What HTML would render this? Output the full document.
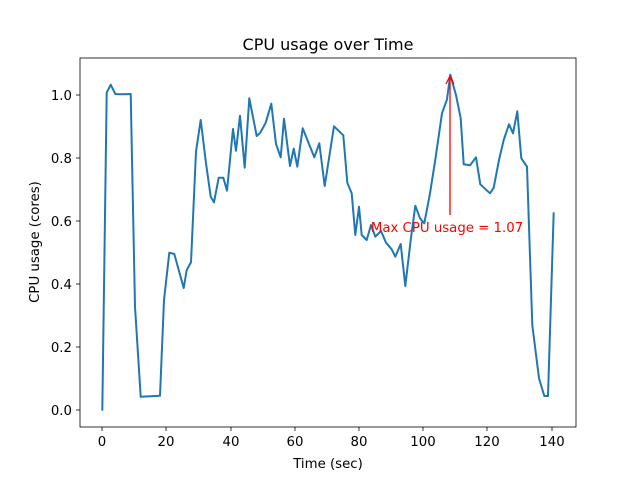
<!DOCTYPE html>
<html><head><style>body{margin:0;background:#fff}svg{display:block;font-family:"DejaVu Sans","Liberation Sans",sans-serif}</style></head><body>
<svg width="640" height="480" viewBox="0 0 640 480" xmlns="http://www.w3.org/2000/svg">
<rect width="640" height="480" fill="#fff"/>
<polyline fill="none" stroke="#1f77b4" stroke-width="2" stroke-linejoin="round" points="102.3,410.7 106.7,92.7 110.7,84.7 115.3,94 120,94.3 130.7,94 135,306.7 140.7,396.7 160,395.7 164,300 169.3,252.7 174.3,254 183.7,288 186.7,270 191,262.3 196,151.7 200.7,120 206,163.3 210.7,196.7 214,202.3 218.7,177.7 223.3,177.7 227,190.7 233,129 236,150.7 240,115.7 244.7,167.7 249.3,98.3 256.7,136 260.3,132.7 265.7,122.7 271.3,103.7 276,144 280.7,157.3 284,118.7 290,166 293.7,148.7 297.3,166.7 302.7,128.3 314.3,157.3 319.3,143.3 324.7,186 334,126.3 343.3,135.3 347.3,182.7 351.7,193.3 355.3,235 359,206.7 361.7,235 366.7,240 371,225 375.3,236.7 381,231 386,242.7 391.7,249.3 395.3,256.7 400.7,244 405.3,286 410.7,240 415.3,205.7 420,218.3 424.3,223.3 430,193.3 435,161.7 442,113.3 447,99.3 450.3,74.7 456,95 460.7,118.3 463.7,164.3 470,165.3 476,157.3 480.3,184.3 490,193.3 493.7,187.7 499,160 503.7,140 509,124.3 513,133.3 517.3,111.3 521.3,158.3 527,166.7 532.3,325 539,378.3 544.3,396 548,396 553.7,212.3"/>
<line x1="450" y1="215" x2="450" y2="77" stroke="red" stroke-width="1.3"/>
<polyline points="446,84 450,76 454,84" fill="none" stroke="red" stroke-width="1.3"/>
<text x="447" y="232" fill="red" font-size="13.3" text-anchor="middle">Max CPU usage = 1.07</text>
<rect x="80" y="58" width="496" height="369" fill="none" stroke="#000" stroke-width="0.8"/>
<g stroke="#000" stroke-width="0.8">
<line x1="102" y1="427" x2="102" y2="431"/><line x1="166" y1="427" x2="166" y2="431"/><line x1="231" y1="427" x2="231" y2="431"/><line x1="295" y1="427" x2="295" y2="431"/><line x1="359" y1="427" x2="359" y2="431"/><line x1="423" y1="427" x2="423" y2="431"/><line x1="487" y1="427" x2="487" y2="431"/><line x1="552" y1="427" x2="552" y2="431"/>
<line x1="76" y1="410" x2="80" y2="410"/><line x1="76" y1="347" x2="80" y2="347"/><line x1="76" y1="284" x2="80" y2="284"/><line x1="76" y1="221" x2="80" y2="221"/><line x1="76" y1="158" x2="80" y2="158"/><line x1="76" y1="95" x2="80" y2="95"/>
</g>
<g font-size="13.3" text-anchor="middle">
<text x="102" y="446">0</text><text x="166" y="446">20</text><text x="231" y="446">40</text><text x="295" y="446">60</text><text x="359" y="446">80</text><text x="423" y="446">100</text><text x="487" y="446">120</text><text x="552" y="446">140</text>
</g>
<g font-size="13.3" text-anchor="end">
<text x="72" y="415">0.0</text><text x="72" y="352">0.2</text><text x="72" y="289">0.4</text><text x="72" y="226">0.6</text><text x="72" y="163">0.8</text><text x="72" y="100">1.0</text>
</g>
<text x="328" y="468" font-size="13.3" text-anchor="middle">Time (sec)</text>
<text transform="translate(39,242) rotate(-90)" font-size="13.3" text-anchor="middle">CPU usage (cores)</text>
<text x="328" y="50" font-size="16" text-anchor="middle">CPU usage over Time</text>
</svg>
</body></html>
